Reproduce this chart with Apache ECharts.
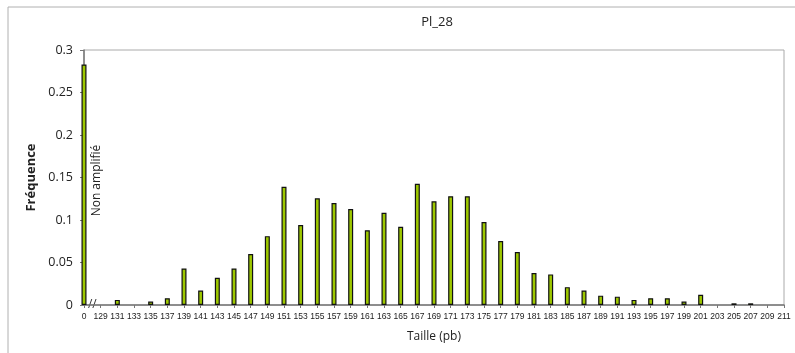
<!DOCTYPE html>
<html><head><meta charset="utf-8">
<script src="https://cdn.jsdelivr.net/npm/echarts@6/dist/echarts.min.js"></script>
<style>html,body{margin:0;padding:0;background:#fff}#c{width:795px;height:353px}</style>
</head><body><div id="c"></div>
<script>
const categories = ['0','129','131','133','135','137','139','141','143','145','147','149','151','153','155','157','159','161','163','165','167','169','171','173','175','177','179','181','183','185','187','189','191','193','195','197','199','201','203','205','207','209','211'];
const frequencies = [0.283,0,0.006,0,0.004,0.008,0.043,0.017,0.032,0.043,0.060,0.081,0.139,0.094,0.1255,0.120,0.113,0.088,0.1085,0.092,0.1427,0.122,0.128,0.128,0.0976,0.0753,0.0624,0.0376,0.036,0.021,0.017,0.011,0.0098,0.006,0.008,0.008,0.004,0.012,0,0.002,0.002,0,0];
const yTicks = [0,0.05,0.1,0.15,0.2,0.25,0.3];

const chart = echarts.init(document.getElementById('c'), null, {renderer:'canvas'});
const F = 'Open Sans, Liberation Sans, sans-serif';
chart.setOption({
  animation:false,
  title:{text:'Pl_28', left:432, top:11, textAlign:'center', textStyle:{fontFamily:F, fontSize:13, fontWeight:'normal', color:'#222'}},
  grid:{left:84, right:11, top:50, bottom:48, show:true, borderColor:'#aaa', borderWidth:1},
  xAxis:{type:'category', data:categories, boundaryGap:false,
    name:'Taille (pb)', nameLocation:'middle', nameGap:26, nameTextStyle:{fontFamily:F, fontSize:12, color:'#222'},
    axisLine:{lineStyle:{color:'#777', width:1.5}},
    axisTick:{show:true, alignWithLabel:true, length:3, lineStyle:{color:'#777'}},
    axisLabel:{interval:0, fontFamily:'Liberation Sans, sans-serif', fontSize:8.5, color:'#222', margin:7},
    splitLine:{show:false}},
  yAxis:{type:'value', min:0, max:0.3, interval:0.05,
    name:'Fréquence', nameLocation:'middle', nameGap:44, nameRotate:90,
    nameTextStyle:{fontFamily:F, fontSize:13, fontWeight:'bold', color:'#222'},
    axisLine:{show:true, lineStyle:{color:'#777', width:1.5}},
    axisTick:{show:true, length:4, lineStyle:{color:'#777'}},
    axisLabel:{fontFamily:F, fontSize:12.5, color:'#222', margin:11, formatter:v=>{const t=yTicks.find(x=>Math.abs(x-v)<1e-9);return String(+((t!==undefined?t:v).toFixed(2)));}},
    splitLine:{show:false}},
  series:[{type:'bar', data:frequencies.map(v => v === 0 ? null : v), barWidth:5, clip:false,
    itemStyle:{color:'#9dc800', borderColor:'#111', borderWidth:1.2}}]
});

function addGraphics(){
  const p0 = chart.convertToPixel({xAxisIndex:0, yAxisIndex:0}, [0, 0]);
  const p1 = chart.convertToPixel({xAxisIndex:0, yAxisIndex:0}, [1, 0]);
  const pm = chart.convertToPixel({xAxisIndex:0, yAxisIndex:0}, [0, 0.15]);
  const bx = (p0[0]+p1[0])/2;
  chart.setOption({graphic:[
    {type:'rect', shape:{x:8, y:7, width:800, height:360}, style:{fill:'none', stroke:'#b0b0b0', lineWidth:1}, silent:true},
    {type:'text', x:bx, y:p0[1], style:{text:'//', fontFamily:F, fontSize:12, fill:'#333', align:'center', verticalAlign:'middle'}},
    {type:'text', x:p0[0]+13, y:pm[1]+3, rotation:Math.PI/2, style:{text:'Non amplifié', fontFamily:F, fontSize:12, fill:'#222', align:'center', verticalAlign:'middle'}}
  ]});
}
addGraphics();
</script></body></html>
